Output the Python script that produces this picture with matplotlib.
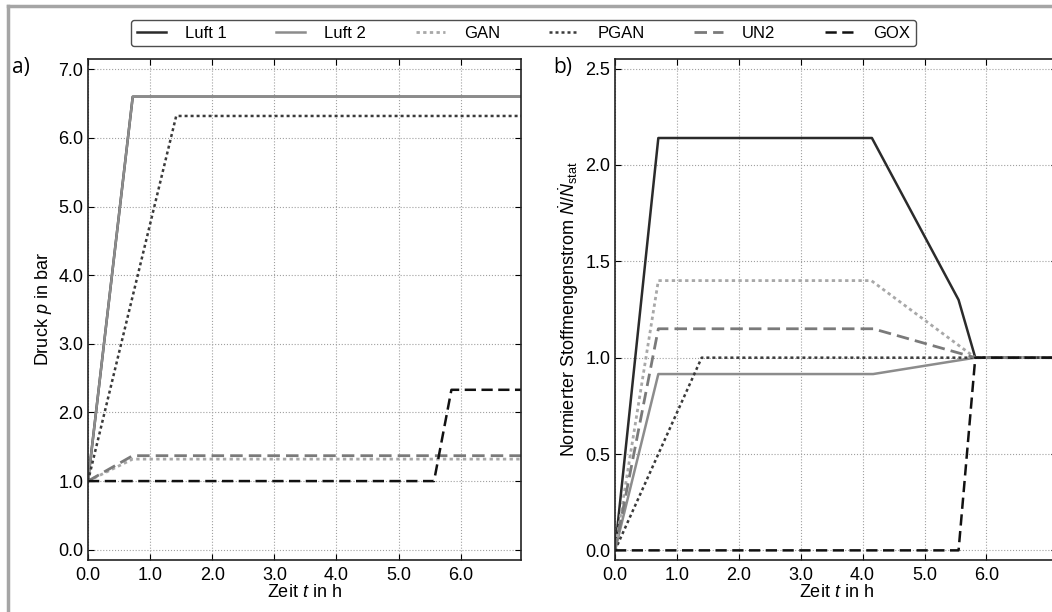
import matplotlib
matplotlib.use("Agg")
import matplotlib.pyplot as plt
from matplotlib.lines import Line2D

plt.rcParams['font.family'] = ['Liberation Sans', 'DejaVu Sans']
plt.rcParams['mathtext.fontset'] = 'custom'
plt.rcParams['mathtext.rm'] = 'Liberation Sans'
plt.rcParams['mathtext.it'] = 'Liberation Sans:italic'
plt.rcParams['font.size'] = 13

# data: time in h
series = ['Luft 1', 'Luft 2', 'GAN', 'PGAN', 'UN2', 'GOX']

# a) Druck in bar
t_luft1_p = [0.0, 0.72, 7.2]
p_luft1 = [1.0, 6.6, 6.6]
t_luft2_p = [0.0, 0.72, 7.2]
p_luft2 = [1.0, 6.6, 6.6]
t_gan_p = [0.0, 0.72, 7.2]
p_gan = [1.0, 1.32, 1.32]
t_pgan_p = [0.0, 1.42, 7.2]
p_pgan = [1.0, 6.32, 6.32]
t_un2_p = [0.0, 0.72, 7.2]
p_un2 = [1.0, 1.37, 1.37]
t_gox_p = [0.0, 5.57, 5.85, 7.2]
p_gox = [1.0, 1.0, 2.33, 2.33]

# b) normierter Stoffmengenstrom
t_luft1_n = [0.0, 0.7, 4.15, 5.55, 5.82, 7.2]
n_luft1 = [0.0, 2.14, 2.14, 1.30, 1.0, 1.0]
t_luft2_n = [0.0, 0.7, 4.17, 5.82, 7.2]
n_luft2 = [0.0, 0.915, 0.915, 1.0, 1.0]
t_gan_n = [0.0, 0.7, 4.14, 5.82, 7.2]
n_gan = [0.0, 1.40, 1.40, 1.0, 1.0]
t_pgan_n = [0.0, 1.4, 7.2]
n_pgan = [0.0, 1.0, 1.0]
t_un2_n = [0.0, 0.7, 4.17, 5.82, 7.2]
n_un2 = [0.0, 1.15, 1.15, 1.0, 1.0]
t_gox_n = [0.0, 5.55, 5.82, 7.2]
n_gox = [0.0, 0.0, 1.0, 1.0]

styles = {
    'Luft 1': dict(color='#2b2b2b', ls='-', lw=1.8),
    'Luft 2': dict(color='#8c8c8c', ls='-', lw=1.8),
    'GAN': dict(color='#a8a8a8', ls=(0, (1.2, 1.2)), lw=2.0),
    'PGAN': dict(color='#3a3a3a', ls=(0, (1.2, 1.2)), lw=1.8),
    'UN2': dict(color='#7a7a7a', ls=(0, (4.5, 2.2)), lw=2.0),
    'GOX': dict(color='#111111', ls=(0, (4.5, 2.2)), lw=1.8),
}

fig = plt.figure(figsize=(10.52, 6.12), dpi=100)
W, H = 1052.0, 612.0
ax1 = fig.add_axes([88 / W, (H - 560) / H, 433 / W, 501 / H])
ax2 = fig.add_axes([615 / W, (H - 560) / H, 442 / W, 501 / H])

data_a = [(t_luft1_p, p_luft1), (t_luft2_p, p_luft2), (t_gan_p, p_gan),
          (t_pgan_p, p_pgan), (t_un2_p, p_un2), (t_gox_p, p_gox)]
data_b = [(t_luft1_n, n_luft1), (t_luft2_n, n_luft2), (t_gan_n, n_gan),
          (t_pgan_n, n_pgan), (t_un2_n, n_un2), (t_gox_n, n_gox)]

handles = []
for name, (t, v) in zip(series, data_a):
    h, = ax1.plot(t, v, label=name, **styles[name])
    handles.append(h)
for name, (t, v) in zip(series, data_b):
    ax2.plot(t, v, **styles[name])

for ax in (ax1, ax2):
    ax.grid(True, color='#a0a0a0', ls=':', lw=0.8)
    ax.tick_params(direction='in', top=True, right=True, length=4, labelsize=13)
    ax.tick_params(axis='x', pad=5)
    ax.set_xticks([0, 1, 2, 3, 4, 5, 6])
    ax.set_xticklabels(['%.1f' % x for x in [0, 1, 2, 3, 4, 5, 6]])
    ax.set_xlabel('Zeit $t$ in h', labelpad=0)
    for s in ax.spines.values():
        s.set_linewidth(1.2)
        s.set_color('#222222')

ax1.set_xlim(0, 6.97)
ax1.set_ylim(-0.15, 7.15)
ax1.set_yticks([0, 1, 2, 3, 4, 5, 6, 7])
ax1.set_yticklabels(['%.1f' % y for y in range(8)])
ax1.set_ylabel('Druck $p$ in bar', labelpad=3)

ax2.set_xlim(0, 7.14)
ax2.set_ylim(-0.05, 2.55)
ax2.set_yticks([0, 0.5, 1.0, 1.5, 2.0, 2.5])
ax2.set_yticklabels(['0.0', '0.5', '1.0', '1.5', '2.0', '2.5'])
ax2.set_ylabel(r'Normierter Stoffmengenstrom $\dot{N}/\dot{N}_{\rm stat}$', labelpad=3)

fig.text(12 / W, 1 - 68 / H, 'a)', fontsize=15, family='Open Sans', va='center')
fig.text(553 / W, 1 - 68 / H, 'b)', fontsize=15, family='Open Sans', va='center')

leg = fig.legend(handles=handles, loc='center', ncol=6,
                 bbox_to_anchor=(523.5 / W, 1 - 33 / H), fontsize=12,
                 frameon=True, fancybox=True, handlelength=1.75,
                 columnspacing=2.95, handletextpad=1.15, borderpad=0.35)
leg.get_frame().set_edgecolor('#222222')
leg.get_frame().set_linewidth(1.0)

# gray frame around the picture (top and left edge)
fig.add_artist(Line2D([8 / W, 1.0], [1 - 5.5 / H, 1 - 5.5 / H], transform=fig.transFigure,
                      color='#a5a5a5', lw=2.5))
fig.add_artist(Line2D([8 / W, 8 / W], [0.0, 1 - 5.5 / H], transform=fig.transFigure,
                      color='#a5a5a5', lw=2.5))

fig.savefig('out.png', dpi=100)
